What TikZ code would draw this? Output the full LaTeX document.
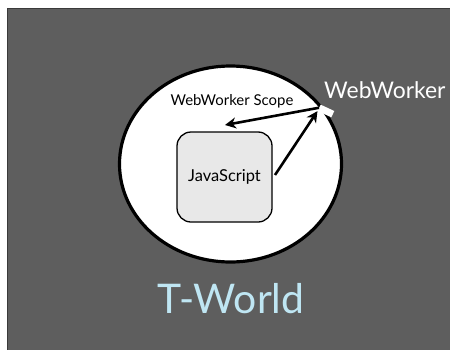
\documentclass[tikz,border=0pt]{standalone}
\usepackage{fontspec}
\usepackage{xcolor}
\usetikzlibrary{arrows.meta,positioning,shapes.geometric}
\setmainfont{Lato}
\definecolor{Slate}{HTML}{5E5E5E}
\definecolor{SlateEdge}{HTML}{3A3A3A}
\definecolor{BoxFill}{HTML}{E8E8E8}
\definecolor{SkyInk}{HTML}{BFE6F3}
\begin{document}
\begin{tikzpicture}[x=1bp,y=1bp,>=Stealth,scope/.style={ellipse,draw=black,line width=3.2bp,fill=white,minimum width=222bp,minimum height=196bp,inner sep=0pt},script/.style={rectangle,rounded corners=14bp,draw=black,line width=1.3bp,fill=BoxFill,minimum width=95bp,minimum height=90bp,font=\fontsize{16.5}{18}\selectfont},marker/.style={rectangle,fill=white,minimum width=15bp,minimum height=7bp,inner sep=0pt,rotate=-25},link/.style={->,line width=2.6bp,draw=black,arrows={-Stealth[length=11bp,width=11bp]}},caption/.style={inner sep=0pt,font=\fontsize{15}{17}\selectfont}]
\useasboundingbox (0,0) rectangle (450,349);\fill[white] (0,0) rectangle (450,349);\draw[SlateEdge,fill=Slate,line width=0.8bp] (7.4,-2) rectangle (452,341);
\node[scope] (world) at (230.5,185) {};\node[script] (js) at (224.5,172) {JavaScript};\node[marker] (ww) at (326,238) {};
\node[caption] (scopelbl) at (232,248) {WebWorker Scope};\node[caption,text=white,font=\fontsize{23}{26}\selectfont,anchor=west] (wwlbl) at (324,259) {WebWorker};\node[inner sep=0pt,text=SkyInk,font=\fontsize{41}{44}\selectfont,anchor=base] (tworld) at (231,36) {T-World};
\coordinate (scopein) at (225,224);\coordinate (jsout) at (275,174);
\draw[link] (ww.west) -- (scopein);\draw[link] (jsout) -- (ww.south west);
\end{tikzpicture}
\end{document}
